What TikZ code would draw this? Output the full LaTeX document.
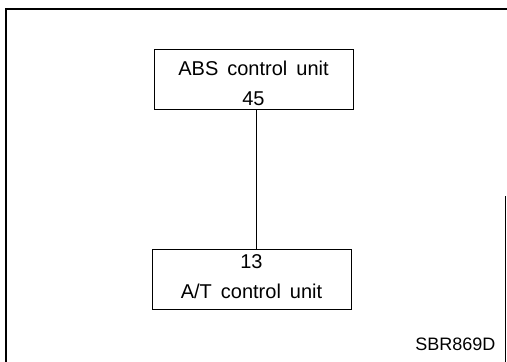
\documentclass[tikz,border=0pt]{standalone}
\usepackage{fontspec}
\setmainfont{Liberation Sans}
\usetikzlibrary{calc, positioning}
\newcommand{\unitfont}{\fontsize{20}{30}\selectfont\spaceskip 9pt\relax}

\begin{document}
\begin{tikzpicture}[x=1pt, y=-1pt]
          \useasboundingbox (0, 0) rectangle (507, 362);
          \tikzset{unitbox/.style={draw, rectangle, line width=1pt, minimum width=199pt, minimum height=60pt},
                   unittext/.style={align=center, font=\unitfont, inner sep=0pt}}
          % frame
          \draw[line width=2pt] (6, 362) -- (6, 9) -- (507, 9);
          \draw[line width=1.2pt] (505.5, 196) -- (505.5, 362);
          \node[unitbox] (abs) at (253.5, 79) {};
          \node[unittext] (abstext) at (253.5, 83) {ABS control unit\\45};
          \node[unitbox] (at) at (251.5, 279.5) {};
          \node[unittext] (attext) at (251.5, 277) {13\\A/T control unit};
          \coordinate (top) at (256, 0);
          \draw[line width=0.8pt] (abs.south -| top) -- (at.north -| top);
          \node[font=\fontsize{18}{20}\selectfont, anchor=east] (code) at (499, 344) {SBR869D};
      \end{tikzpicture}
\end{document}
